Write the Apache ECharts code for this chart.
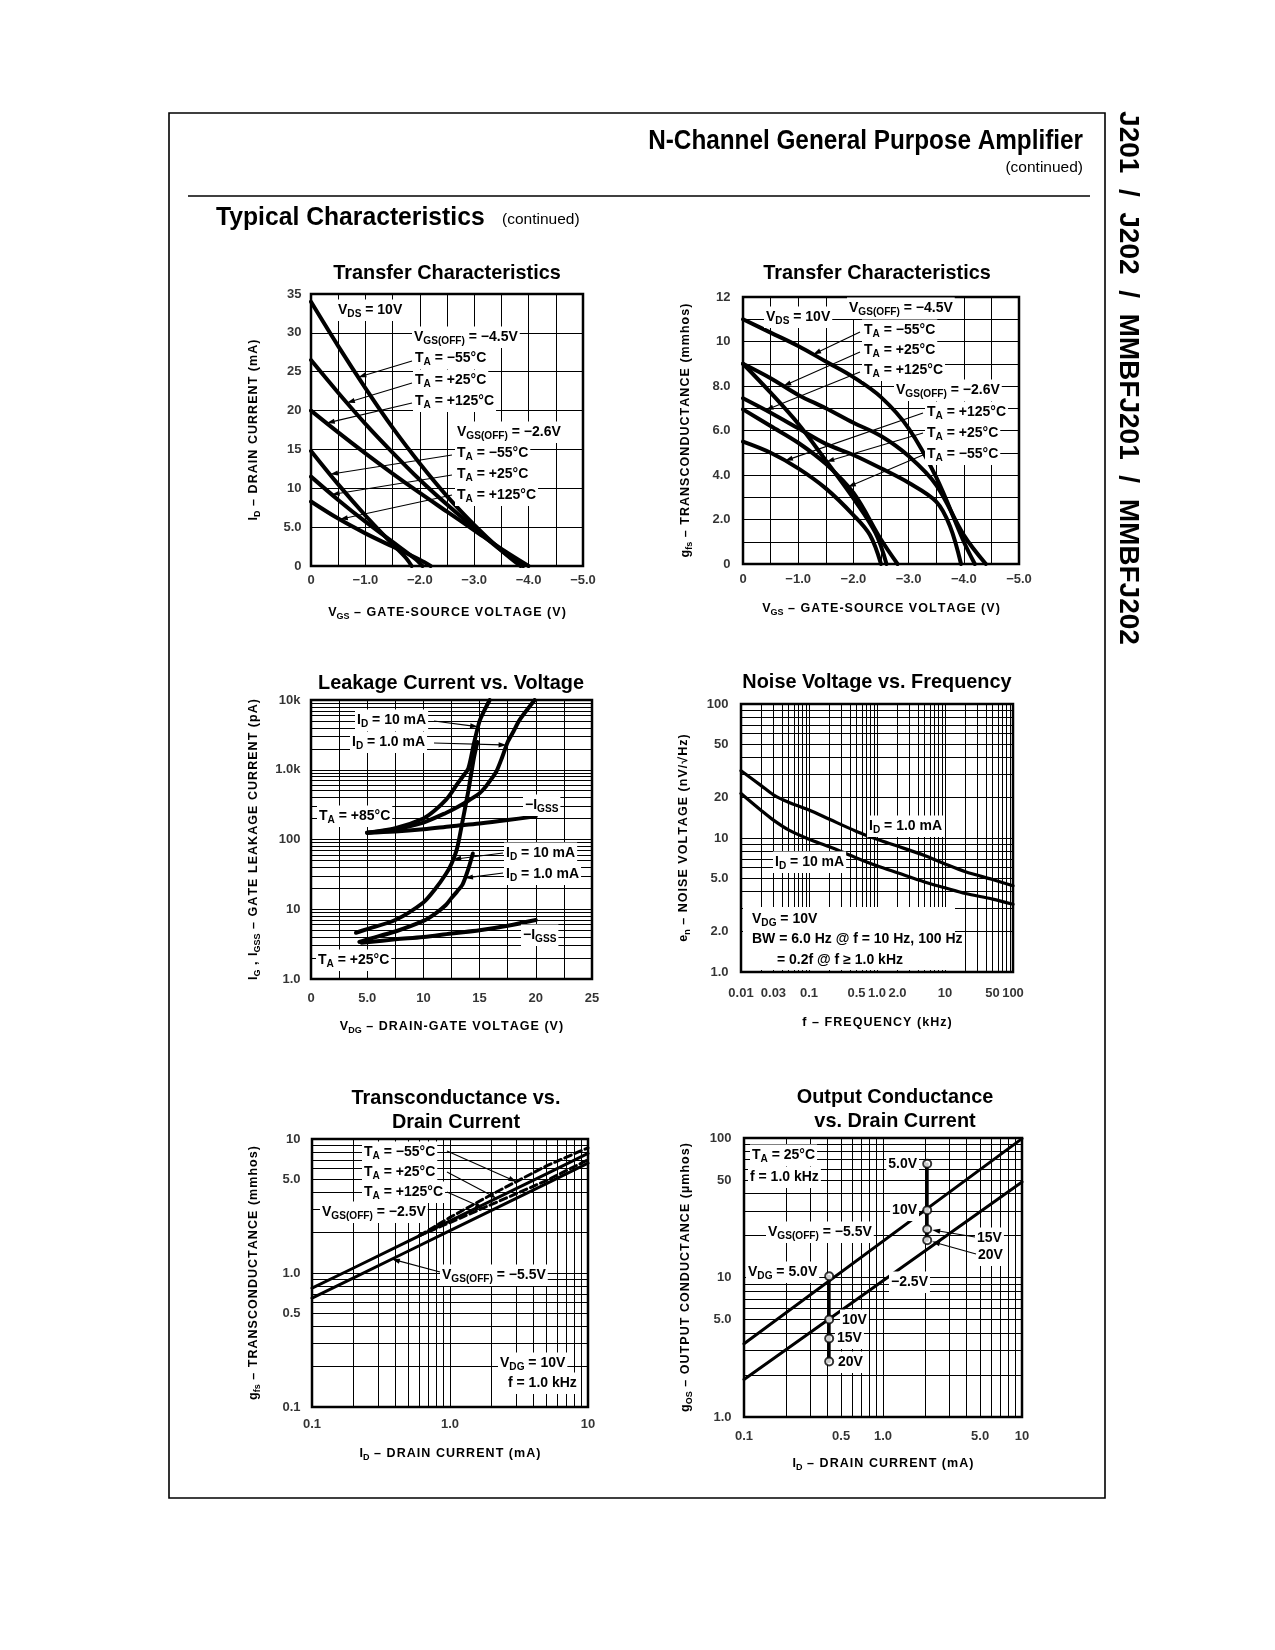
<!DOCTYPE html>
<html><head><meta charset="utf-8">
<script src="https://cdn.jsdelivr.net/npm/echarts/dist/echarts.min.js"></script>
<style>html,body{margin:0;padding:0;background:#fff}#c{width:1275px;height:1650px}</style>
</head><body><div id="c"></div>
<script>
// ---------------- DATA ----------------
// Chart 1: Transfer characteristics, ID (mA) vs VGS (V)
const id45m55 = [[0,34],[-0.5,28.3],[-1,22.9],[-1.5,17.8],[-2,13.2],[-2.5,9.0],[-3,5.3],[-3.5,2.0],[-3.85,0]];
const id45p25 = [[0,26.5],[-0.5,22.3],[-1,18.3],[-1.5,14.6],[-2,11.1],[-2.5,7.9],[-3,4.9],[-3.5,2.0],[-3.9,0]];
const id45p125 = [[0,20],[-0.5,17.2],[-1,14.5],[-1.5,11.9],[-2,9.4],[-2.5,7.0],[-3,4.6],[-3.5,2.2],[-4,0]];
const id26m55 = [[0,14.8],[-0.5,10.5],[-1,6.5],[-1.5,2.8],[-1.75,1],[-1.85,0]];
const id26p25 = [[0,11.5],[-0.5,8.5],[-1,5.7],[-1.5,3.1],[-1.9,1.0],[-2.05,0]];
const id26p125 = [[0,8.3],[-0.5,6.1],[-1,4.2],[-1.5,2.5],[-2,0.8],[-2.2,0]];
const c1XVals = [0,-1,-2,-3,-4,-5], c1XText = ['0','−1.0','−2.0','−3.0','−4.0','−5.0'];
const c1YVals = [0,5,10,15,20,25,30,35], c1YText = ['0','5.0','10','15','20','25','30','35'];

// Chart 2: Transfer characteristics, gfs (mmhos) vs VGS (V)
const g45m55 = [[0,11.0],[-0.5,10.4],[-1,9.8],[-1.5,9.1],[-2,8.4],[-2.5,7.5],[-3,6.1],[-3.5,3.9],[-4,1.0],[-4.2,0]];
const g45p25 = [[0,9.0],[-0.5,8.35],[-1,7.6],[-1.5,7.0],[-2,6.35],[-2.5,5.75],[-3,4.85],[-3.5,3.55],[-4,1.3],[-4.4,0]];
const g45p125 = [[0,7.45],[-0.5,6.8],[-1,6.1],[-1.5,5.4],[-2,4.9],[-2.5,4.3],[-3,3.65],[-3.5,2.8],[-3.75,1.7],[-3.95,0]];
const g26p25 = [[0,9.0],[-0.5,7.7],[-1,6.3],[-1.5,4.65],[-2,2.95],[-2.4,1.4],[-2.6,0]];
const g26m55 = [[0,6.95],[-0.5,6.2],[-1,5.45],[-1.5,4.5],[-2,3.2],[-2.5,1.1],[-2.8,0]];
const g26p125 = [[0,5.5],[-0.5,5.0],[-1,4.3],[-1.5,3.4],[-2,2.2],[-2.3,1.3],[-2.5,0]];
const c2YVals = [0,2,4,6,8,10,12], c2YText = ['0','2.0','4.0','6.0','8.0','10','12'];

// Chart 3: Leakage current (pA) vs VDG (V)
const lk85i10 = [[5,125],[7.5,145],[10,200],[11,260],[12,370],[12.5,470],[13,620],[13.5,800],[14,1050],[14.5,2400],[15,5000],[15.5,7500],[15.9,10000]];
const lk85i1 = [[5,125],[7.5,140],[10,175],[12,240],[13,290],[14,360],[15,460],[15.5,560],[16,720],[16.5,950],[17,1500],[17.5,2500],[18,3500],[18.5,5000],[19,6500],[19.9,10000]];
const lk85gss = [[5,125],[7.5,130],[10,140],[12.5,155],[15,170],[17.5,190],[20,215]];
const lk25i10 = [[4,4.6],[5,5.2],[7.5,7],[10,12.5],[11,19],[12,32],[12.5,45],[13,75],[13.5,190],[14,500],[14.5,1500],[14.8,2500]];
const lk25i1 = [[4.3,3.4],[5,3.7],[7.5,4.8],[10,6.8],[11,8.5],[12,11.5],[12.5,14.5],[13,18],[13.5,23],[14,38],[14.4,63]];
const lk25gss = [[4.5,3.3],[7.5,3.7],[10,4.0],[12.5,4.5],[15,5.0],[17.5,5.8],[20,7.0]];
const c3XVals = [0,5,10,15,20,25], c3XText = ['0','5.0','10','15','20','25'];
const c3YVals = [1,10,100,1000,10000], c3YText = ['1.0','10','100','1.0k','10k'];

// Chart 4: Noise voltage (nV/rtHz) vs frequency (kHz)
const nzFreq = [0.01,0.02,0.03,0.05,0.1,0.2,0.5,1,2,5,10,20,50,100];
const nz1mA = [31.8,24.5,21.0,18.5,16.2,13.8,11.2,9.8,8.7,7.4,6.4,5.6,4.9,4.4];
const nz10mA = [21.5,16.0,13.6,11.5,9.8,8.6,7.1,6.2,5.5,4.7,4.25,3.85,3.5,3.2];
const c4XVals = [0.01,0.03,0.1,0.5,1,2,10,50,100], c4XText = ['0.01','0.03','0.1','0.5','1.0','2.0','10','50','100'];
const c4YVals = [1,2,5,10,20,50,100], c4YText = ['1.0','2.0','5.0','10','20','50','100'];

// Chart 5: Transconductance (mmhos) vs drain current (mA)
const gmI = [0.1,0.2,0.5,1,2,5,10];
const gm25 = [0.77,1.09,1.73,2.45,3.47,5.5,7.8];
const gmOff55 = [0.65,0.92,1.46,2.07,2.93,4.64,6.6];
const gmM55 = [[0.6,1.9],[1,2.6],[2,3.85],[5,6.3],[10,8.6]];
const gmP125 = [[0.6,1.9],[1,2.38],[2,3.25],[5,4.9],[10,7.0]];
const c5XVals = [0.1,1,10], c5XText = ['0.1','1.0','10'];
const c5YVals = [0.1,0.5,1,5,10], c5YText = ['0.1','0.5','1.0','5.0','10'];

// Chart 6: Output conductance (umhos) vs drain current (mA)
const goI = [0.1,10];
const goOff55 = [3.35,99];
const goOff25 = [1.86,48.4];
const goMarkI = [0.41,2.08];
const goMarkLow = [10.2,5.0,3.65,2.5];
const goMarkHigh = [65.4,30.3,22.2,18.5];
const c6XVals = [0.1,0.5,1,5,10], c6XText = ['0.1','0.5','1.0','5.0','10'];
const c6YVals = [1,5,10,50,100], c6YText = ['1.0','5.0','10','50','100'];

// ---------------- LAYOUT / STYLE ----------------
const FONT = "'Liberation Sans', Arial, Helvetica, sans-serif";
const grids = [
  {left:311, top:294, width:272, height:272},
  {left:743, top:297, width:276, height:267},
  {left:311, top:700, width:281, height:279},
  {left:741, top:704, width:272, height:268},
  {left:312, top:1139, width:276, height:268},
  {left:744, top:1138, width:278, height:279}
];
function sub(s){ return '{t|' + s.replace(/_\{([^}]*)\}/g, '}{s|$1}{t|') + '}'; }
function spaced(s){ return s.replace(/_\{[^}]*\}|[^_]+/g, m => m.startsWith('_{') ? m : m.split('').join('\u200A')); }
function rich(fs, w){
  const ss = Math.round(fs*0.72*10)/10;
  return {
    t:{fontSize:fs, fontWeight:w||'bold', fontFamily:FONT, lineHeight:fs+5, color:'#000', fill:'#000'},
    s:{fontSize:ss, fontWeight:w||'bold', fontFamily:FONT, lineHeight:ss, verticalAlign:'bottom', color:'#000', fill:'#000'}
  };
}
const gridOpt = grids.map(g => Object.assign({show:true, borderColor:'#000', borderWidth:2.5, backgroundColor:'rgba(0,0,0,0)', containLabel:false}, g));
const split = {show:true, lineStyle:{color:'#000', width:1}};
function axBase(gi, o){
  return Object.assign({gridIndex:gi, axisLine:{show:false}, axisTick:{show:false}, axisLabel:{show:false}, splitLine:split, minorSplitLine:{show:false}}, o);
}
function xName(name, gap){ return {name:sub(spaced(name)), nameLocation:'middle', nameGap:gap, nameTextStyle:{rich:rich(12.5)}}; }
function yName(name, gap){ return {name:sub(spaced(name)), nameLocation:'middle', nameGap:gap, nameRotate:90, nameTextStyle:{rich:rich(12.5)}}; }

const xAxes = [
  axBase(0, Object.assign({type:'value', min:-5, max:0, interval:0.5, inverse:true}, xName('V_{GS} – GATE-SOURCE VOLTAGE (V)', 38))),
  axBase(1, Object.assign({type:'value', min:-5, max:0, interval:0.5, inverse:true}, xName('V_{GS} – GATE-SOURCE VOLTAGE (V)', 36))),
  axBase(2, Object.assign({type:'value', min:0, max:25, interval:2.5}, xName('V_{DG} – DRAIN-GATE VOLTAGE (V)', 39))),
  axBase(3, Object.assign({type:'log', logBase:10, min:0.01, max:100}, xName('f – FREQUENCY (kHz)', 42))),
  axBase(4, Object.assign({type:'log', logBase:10, min:0.1, max:10}, xName('I_{D} – DRAIN CURRENT (mA)', 38))),
  axBase(5, Object.assign({type:'log', logBase:10, min:0.1, max:10}, xName('I_{D} – DRAIN CURRENT (mA)', 38)))
];
const yAxes = [
  axBase(0, Object.assign({type:'value', min:0, max:35, interval:5}, yName('I_{D} – DRAIN CURRENT (mA)', 49))),
  axBase(1, Object.assign({type:'value', min:0, max:12, interval:1}, yName('g_{fs} – TRANSCONDUCTANCE (mmhos)', 49))),
  axBase(2, Object.assign({type:'log', logBase:10, min:1, max:10000}, yName('I_{G} , I_{GSS} – GATE LEAKAGE CURRENT (pA)', 49))),
  axBase(3, Object.assign({type:'log', logBase:10, min:1, max:100}, yName('e_{n} – NOISE VOLTAGE (nV/√Hz)', 49))),
  axBase(4, Object.assign({type:'log', logBase:10, min:0.1, max:10}, yName('g_{fs} – TRANSCONDUCTANCE (mmhos)', 50))),
  axBase(5, Object.assign({type:'log', logBase:10, min:1, max:100}, yName('g_{OS} – OUTPUT CONDUCTANCE (µmhos)', 50)))
];

function minors(decades){ const out=[]; decades.forEach(d=>{ for(let k=2;k<=9;k++) out.push(+(d*k).toPrecision(3)); }); return out; }

function ticks(gi, axis, vals, texts, fixed, dist, extra){
  const s = {type:'scatter', xAxisIndex:gi, yAxisIndex:gi, symbol:'circle', symbolSize:1,
    itemStyle:{color:'rgba(0,0,0,0)'}, silent:true, clip:false, z:11, emphasis:{disabled:true},
    data: vals.map((v,i)=>({value: axis==='x'?[v,fixed]:[fixed,v], label:{formatter:texts[i]}})),
    label:{show:true, position: axis==='x'?'bottom':'left', distance:dist, color:'#000', fontFamily:FONT, fontWeight:'bold', fontSize:13}};
  if (extra) s.markLine = {silent:true, symbol:['none','none'], label:{show:false}, animation:false,
    lineStyle:{color:'#000', width:1, type:'solid'}, emphasis:{disabled:true}, data: extra};
  return s;
}
function curve(gi, data, o){
  o = o || {};
  return {type:'line', xAxisIndex:gi, yAxisIndex:gi, data, symbol:'none', showSymbol:false,
    smooth: o.smooth===undefined?0.35:o.smooth, silent:true, z:10,
    lineStyle:{color:'#000', width:o.w||4, type:o.dash||'solid', cap:'round', join:'round'}};
}
const zip = (xs, ys) => xs.map((x,i)=>[x, ys[i]]);

const series = [
  ticks(0,'x',c1XVals,c1XText,0,7), ticks(0,'y',c1YVals,c1YText,0,9),
  curve(0,id45m55), curve(0,id45p25), curve(0,id45p125), curve(0,id26m55), curve(0,id26p25), curve(0,id26p125),

  ticks(1,'x',c1XVals,c1XText,0,8), ticks(1,'y',c2YVals,c2YText,0,12),
  curve(1,g45m55), curve(1,g45p25), curve(1,g45p125), curve(1,g26p25), curve(1,g26m55), curve(1,g26p125),

  ticks(2,'x',c3XVals,c3XText,1,12, minors([1,10,100,1000]).map(v=>({yAxis:v}))),
  ticks(2,'y',c3YVals,c3YText,0,10),
  curve(2,lk85i10,{smooth:0.25}), curve(2,lk85i1,{smooth:0.25}), curve(2,lk85gss), curve(2,lk25i10,{smooth:0.25}), curve(2,lk25i1,{smooth:0.25}), curve(2,lk25gss),

  ticks(3,'x',c4XVals,c4XText,1,14, minors([0.01,0.1,1,10]).map(v=>({xAxis:v})).concat(minors([1,10]).map(v=>({yAxis:v})))),
  ticks(3,'y',c4YVals,c4YText,0.01,12),
  curve(3,zip(nzFreq,nz1mA),{w:3.2,smooth:0.3}), curve(3,zip(nzFreq,nz10mA),{w:3.2,smooth:0.3}),

  ticks(4,'x',c5XVals,c5XText,0.1,10, minors([0.1,1]).map(v=>({xAxis:v})).concat(minors([0.1,1]).map(v=>({yAxis:v})))),
  ticks(4,'y',c5YVals,c5YText,0.1,11),
  curve(4,zip(gmI,gm25),{w:3,smooth:false}), curve(4,zip(gmI,gmOff55),{w:3,smooth:false}),
  curve(4,gmM55,{w:3,dash:[7,4],smooth:false}), curve(4,gmP125,{w:3,dash:[7,4],smooth:false}),

  ticks(5,'x',c6XVals,c6XText,1,12, minors([0.1,1]).map(v=>({xAxis:v})).concat(minors([1,10]).map(v=>({yAxis:v})))),
  ticks(5,'y',c6YVals,c6YText,0.1,12),
  curve(5,zip(goI,goOff55),{w:3,smooth:false}), curve(5,zip(goI,goOff25),{w:3,smooth:false}),
  curve(5,[[goMarkI[0],goMarkLow[0]],[goMarkI[0],goMarkLow[3]]],{w:3,smooth:false}),
  curve(5,[[goMarkI[1],goMarkHigh[0]],[goMarkI[1],goMarkHigh[3]]],{w:3,smooth:false}),
  {type:'scatter', xAxisIndex:5, yAxisIndex:5, symbol:'circle', symbolSize:8, silent:true, z:11,
   itemStyle:{color:'#fff', borderColor:'#000', borderWidth:2},
   data: goMarkLow.map(v=>[goMarkI[0],v]).concat(goMarkHigh.map(v=>[goMarkI[1],v]))}
];

const chart = echarts.init(document.getElementById('c'), null, {width:1275, height:1650});
chart.setOption({animation:false, backgroundColor:'#fff', grid:gridOpt, xAxis:xAxes, yAxis:yAxes, series});

// ---------------- ANNOTATIONS ----------------
const notes = [
  // chart 1
  {g:0,x:338,y:310,t:'V_{DS} = 10V'},
  {g:0,x:414,y:337,t:'V_{GS(OFF)} = −4.5V'},
  {g:0,x:415,y:358,t:'T_{A} = −55°C',from:[412,361],to:[-0.87,24.3]},
  {g:0,x:415,y:380,t:'T_{A} = +25°C',from:[412,383],to:[-0.66,21.0]},
  {g:0,x:415,y:401,t:'T_{A} = +125°C',from:[412,403],to:[-0.29,18.4]},
  {g:0,x:457,y:432,t:'V_{GS(OFF)} = −2.6V'},
  {g:0,x:457,y:453,t:'T_{A} = −55°C',from:[452,455],to:[-0.35,11.8]},
  {g:0,x:457,y:474,t:'T_{A} = +25°C',from:[452,475],to:[-0.38,9.2]},
  {g:0,x:457,y:495,t:'T_{A} = +125°C',from:[452,495],to:[-0.53,6.0]},
  // chart 2
  {g:1,x:766,y:317,t:'V_{DS} = 10V'},
  {g:1,x:849,y:308,t:'V_{GS(OFF)} = −4.5V'},
  {g:1,x:864,y:330,t:'T_{A} = −55°C',from:[860,332],to:[-1.27,9.42]},
  {g:1,x:864,y:350,t:'T_{A} = +25°C',from:[860,352],to:[-0.73,8.0]},
  {g:1,x:864,y:370,t:'T_{A} = +125°C',from:[860,372],to:[-0.41,6.92]},
  {g:1,x:896,y:390,t:'V_{GS(OFF)} = −2.6V'},
  {g:1,x:927,y:412,t:'T_{A} = +125°C',from:[923,413],to:[-0.76,4.64]},
  {g:1,x:927,y:433,t:'T_{A} = +25°C',from:[923,433],to:[-1.51,4.6]},
  {g:1,x:927,y:454,t:'T_{A} = −55°C',from:[923,455],to:[-1.9,3.46]},
  // chart 3
  {g:2,x:357,y:720,t:'I_{D} = 10 mA',from:[434,721],to:[14.87,4130]},
  {g:2,x:352,y:742,t:'I_{D} = 1.0 mA',from:[434,743],to:[17.4,2260]},
  {g:2,x:525,y:805,t:'−I_{GSS}'},
  {g:2,x:319,y:816,t:'T_{A} = +85°C'},
  {g:2,x:506,y:853,t:'I_{D} = 10 mA',from:[503,853],to:[12.65,52]},
  {g:2,x:506,y:874,t:'I_{D} = 1.0 mA',from:[503,873],to:[13.7,28]},
  {g:2,x:523,y:935,t:'−I_{GSS}'},
  {g:2,x:318,y:960,t:'T_{A} = +25°C'},
  // chart 4
  {g:3,x:869,y:826,t:'I_{D} = 1.0 mA'},
  {g:3,x:775,y:862,t:'I_{D} = 10 mA'},
  {g:3,x:752,y:919,t:'V_{DG} = 10V',nobg:true},
  {g:3,x:752,y:939,t:'BW = 6.0 Hz @ f = 10 Hz, 100 Hz',nobg:true},
  {g:3,x:777,y:960,t:'= 0.2f @ f ≥ 1.0 kHz',nobg:true},
  // chart 5
  {g:4,x:364,y:1152,t:'T_{A} = −55°C',from:[447,1151],to:[3.03,4.8]},
  {g:4,x:364,y:1172,t:'T_{A} = +25°C',from:[447,1172],to:[2.17,3.62]},
  {g:4,x:364,y:1192,t:'T_{A} = +125°C',from:[447,1192],to:[1.74,3.05]},
  {g:4,x:322,y:1212,t:'V_{GS(OFF)} = −2.5V'},
  {g:4,x:442,y:1275,t:'V_{GS(OFF)} = −5.5V',from:[440,1272],to:[0.379,1.27]},
  {g:4,x:500,y:1363,t:'V_{DG} = 10V'},
  {g:4,x:508,y:1383,t:'f = 1.0 kHz'},
  // chart 6
  {g:5,x:752,y:1155,t:'T_{A} = 25°C'},
  {g:5,x:750,y:1177,t:'f = 1.0 kHz'},
  {g:5,x:917,y:1164,t:'5.0V',align:'right'},
  {g:5,x:917,y:1210,t:'10V',align:'right'},
  {g:5,x:768,y:1232,t:'V_{GS(OFF)} = −5.5V'},
  {g:5,x:977,y:1238,t:'15V',from:[975,1237],to:[goMarkI[1],goMarkHigh[2]],gap:5},
  {g:5,x:978,y:1255,t:'20V',from:[976,1254],to:[goMarkI[1],goMarkHigh[3]],gap:5},
  {g:5,x:748,y:1272,t:'V_{DG} = 5.0V'},
  {g:5,x:891,y:1282,t:'−2.5V'},
  {g:5,x:842,y:1320,t:'10V'},
  {g:5,x:837,y:1338,t:'15V'},
  {g:5,x:838,y:1362,t:'20V'}
];

const mctx = document.createElement('canvas').getContext('2d');
function measure(str, fs){
  let w = 0; const ss = Math.round(fs*0.72*10)/10;
  str.replace(/_\{([^}]*)\}|([^_]+)/g, (m, s1, s2) => {
    if (s1 !== undefined) { mctx.font = 'bold '+ss+'px '+FONT; w += mctx.measureText(s1).width; }
    else { mctx.font = 'bold '+fs+'px '+FONT; w += mctx.measureText(s2).width; }
    return m;
  });
  return w;
}

const els = [];
const AFS = 14;
function text(x, y, str, o){
  o = o || {};
  return {type:'text', x, y, z:o.z||13, silent:true,
    style:{text:sub(str), rich:rich(o.fs||AFS, o.w), align:o.align||'left', verticalAlign:'middle', fill:'#000',
      font:'bold '+(o.fs||AFS)+'px '+FONT}};
}
notes.forEach(n=>{
  if (!n.nobg){
    const w = measure(n.t, AFS);
    const x0 = n.align==='right' ? n.x - w : n.x;
    els.push({type:'rect', z:12, silent:true, shape:{x:x0-2, y:n.y-10.5, width:w+4, height:21.5}, style:{fill:'#fff'}});
  }
  els.push(text(n.x, n.y, n.t, {align:n.align}));
  if (n.to){
    const p = chart.convertToPixel({gridIndex:n.g}, n.to);
    let dx = p[0]-n.from[0], dy = p[1]-n.from[1];
    const L = Math.hypot(dx,dy); const ux=dx/L, uy=dy/L;
    const gap = n.gap||0;
    const tx = p[0]-ux*gap, ty = p[1]-uy*gap;
    els.push({type:'line', z:12, silent:true, shape:{x1:n.from[0], y1:n.from[1], x2:tx-ux*5, y2:ty-uy*5}, style:{stroke:'#000', lineWidth:1.1}});
    els.push({type:'polygon', z:12, silent:true, shape:{points:[[tx,ty],[tx-ux*8-uy*2.6, ty-uy*8+ux*2.6],[tx-ux*8+uy*2.6, ty-uy*8-ux*2.6]]}, style:{fill:'#000'}});
  }
});
// white box behind the noise chart conditions text
els.push({type:'rect', z:8, silent:true, shape:{x:743, y:907, width:212, height:63}, style:{fill:'#fff'}});

// chart titles
const titles = [
  [447,273,'Transfer Characteristics'], [877,273,'Transfer Characteristics'],
  [451,683,'Leakage Current vs. Voltage'], [877,682,'Noise Voltage vs. Frequency'],
  [456,1098,'Transconductance vs.'], [456,1122,'Drain Current'],
  [895,1097,'Output Conductance'], [895,1121,'vs. Drain Current']
];
titles.forEach(t=>els.push({type:'text', x:t[0], y:t[1], z:12, silent:true, scaleX:0.97,
  style:{text:t[2], font:'bold 20.5px '+FONT, fill:'#000', align:'center', verticalAlign:'middle'}}));

// page frame and headers
els.push({type:'rect', z:12, silent:true, shape:{x:169, y:113, width:936, height:1385}, style:{fill:null, stroke:'#000', lineWidth:1.6}});
els.push({type:'line', z:12, silent:true, shape:{x1:188, y1:196, x2:1090, y2:196}, style:{stroke:'#000', lineWidth:1.6}});
els.push({type:'text', x:1083, y:142, z:12, silent:true, scaleX:0.9, style:{text:'N-Channel General Purpose Amplifier', font:'bold 27px '+FONT, fill:'#000', align:'right', verticalAlign:'middle'}});
els.push({type:'text', x:1083, y:168, z:12, silent:true, style:{text:'(continued)', font:'15.5px '+FONT, fill:'#000', align:'right', verticalAlign:'middle'}});
els.push({type:'text', x:216, y:218, z:12, silent:true, scaleX:0.95, style:{text:'Typical Characteristics', font:'bold 26px '+FONT, fill:'#000', align:'left', verticalAlign:'middle'}});
els.push({type:'text', x:502, y:220, z:12, silent:true, style:{text:'(continued)', font:'15.5px '+FONT, fill:'#000', align:'left', verticalAlign:'middle'}});
els.push({type:'text', x:1128, y:378, z:12, silent:true, rotation:-Math.PI/2, style:{text:'J201  /  J202  /  MMBFJ201  /  MMBFJ202', font:'bold 28px '+FONT, fill:'#000', align:'center', verticalAlign:'middle'}});

chart.setOption({graphic:{elements:els}});
</script></body></html>
